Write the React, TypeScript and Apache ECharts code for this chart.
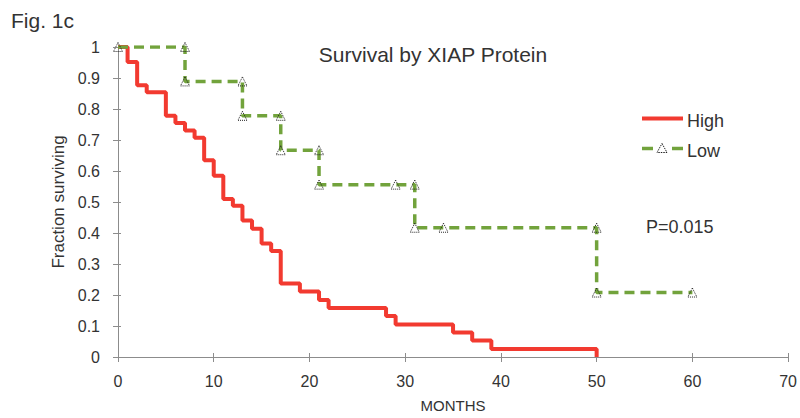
import React, { useEffect, useRef } from "react";
import * as echarts from "echarts";

const highMonths = [0, 1, 2, 3, 5, 6, 7, 8, 9, 10, 11, 12, 13, 14, 15, 16, 17, 19, 21, 22, 28, 29, 35, 37, 39, 50, 50];
const highSurv = [1, 0.952, 0.877, 0.854, 0.778, 0.755, 0.731, 0.707, 0.635, 0.585, 0.51, 0.488, 0.44, 0.414, 0.366, 0.342, 0.237, 0.211, 0.184, 0.158, 0.132, 0.105, 0.079, 0.053, 0.026, 0.026, 0];

const lowMonths = [0, 7, 7, 13, 13, 17, 17, 21, 21, 29, 31, 31, 34, 50, 50, 60];
const lowSurv = [1, 1, 0.889, 0.889, 0.778, 0.778, 0.667, 0.667, 0.556, 0.556, 0.556, 0.417, 0.417, 0.417, 0.208, 0.208];

const xTicks = { min: 0, max: 70, interval: 10 };
const yTicks = { min: 0, max: 1, interval: 0.1 };

const RED = "#f23a30";
const GREEN = "#72a33c";

export default function App() {
  const ref = useRef<HTMLDivElement>(null);
  useEffect(() => {
    if (!ref.current) return;
    const chart = echarts.init(ref.current, null, { renderer: "svg" });
    const font = "'Liberation Sans', Arial, sans-serif";
    const axisColor = "#8c8c8c";
    const textColor = "#333";
    const grid = { left: 118, right: 11, top: 47, bottom: 56 };
    chart.setOption({
      animation: false,
      textStyle: { fontFamily: font },
      grid,
      xAxis: [
        {
          type: "value",
          ...xTicks,
          name: "MONTHS",
          nameLocation: "middle",
          nameGap: 41,
          nameTextStyle: { fontSize: 15, color: textColor, fontFamily: font },
          axisLine: { show: true, lineStyle: { color: axisColor } },
          axisTick: { show: true, length: 5, lineStyle: { color: axisColor } },
          axisLabel: { fontSize: 16, color: textColor, margin: 16, fontFamily: font },
          splitLine: { show: false },
        },
        {
          type: "value",
          ...xTicks,
          position: "bottom",
          axisLine: { show: false },
          axisTick: { show: true, inside: true, length: 4, lineStyle: { color: axisColor } },
          axisLabel: { show: false },
          splitLine: { show: false },
        },
      ],
      yAxis: [
        {
          type: "value",
          ...yTicks,
          name: "Fraction surviving",
          nameLocation: "middle",
          nameGap: 46,
          nameTextStyle: { fontSize: 17, color: textColor, fontFamily: font },
          axisLine: { show: true, lineStyle: { color: axisColor } },
          axisTick: { show: true, length: 5, lineStyle: { color: axisColor } },
          axisLabel: {
            fontSize: 16,
            color: textColor,
            margin: 18,
            fontFamily: font,
            formatter: (v: number) => String(Math.round(v * 10) / 10),
          },
          splitLine: { show: false },
        },
        {
          type: "value",
          ...yTicks,
          position: "left",
          axisLine: { show: false },
          axisTick: { show: true, inside: true, length: 3, lineStyle: { color: axisColor } },
          axisLabel: { show: false },
          splitLine: { show: false },
        },
      ],
      graphic: [
        { type: "text", left: 11, top: 10, style: { text: "Fig. 1c", fontSize: 21, fill: textColor, fontFamily: font } },
        { type: "text", x: 433, y: 54, style: { text: "Survival by XIAP Protein", fontSize: 21, fill: textColor, fontFamily: font, align: "center", verticalAlign: "middle" } },
        { type: "text", x: 646, y: 227, style: { text: "P=0.015", fontSize: 18, fill: textColor, fontFamily: font, verticalAlign: "middle" } },
        // legend
        { type: "line", shape: { x1: 642, y1: 118.5, x2: 683, y2: 118.5 }, style: { stroke: RED, lineWidth: 4 } },
        { type: "text", x: 687, y: 121, style: { text: "High", fontSize: 18, fill: textColor, fontFamily: font, verticalAlign: "middle" } },
        { type: "line", shape: { x1: 642, y1: 148.5, x2: 653, y2: 148.5 }, style: { stroke: GREEN, lineWidth: 3.5 } },
        { type: "line", shape: { x1: 672, y1: 148.5, x2: 683, y2: 148.5 }, style: { stroke: GREEN, lineWidth: 3.5 } },
        { type: "polygon", shape: { points: [[662, 143.5], [667, 152.5], [657, 152.5]] }, style: { fill: "rgba(255,255,255,0)", stroke: "#222", lineWidth: 1, lineDash: [1.5, 1] } },
        { type: "text", x: 687, y: 151, style: { text: "Low", fontSize: 18, fill: textColor, fontFamily: font, verticalAlign: "middle" } },
      ],
      series: [
        {
          name: "High",
          type: "line",
          step: "end",
          showSymbol: false,
          symbol: "none",
          data: highMonths.map((m, i) => [m, highSurv[i]]),
          lineStyle: { color: RED, width: 4 },
          itemStyle: { color: RED },
        },
        {
          name: "Low",
          type: "line",
          symbol: "triangle",
          symbolSize: 9,
          showSymbol: true,
          data: lowMonths.map((m, i) => [m, lowSurv[i]]),
          lineStyle: { color: GREEN, width: 3.5, type: [10, 6] },
          itemStyle: { color: "rgba(255,255,255,0)", borderColor: "#222", borderWidth: 1, borderType: "dotted" },
        },
      ],
    });
    return () => chart.dispose();
  }, []);
  return <div ref={ref} style={{ width: 800, height: 418, position: "absolute", left: 0, top: 0, background: "#fff" }} />;
}
